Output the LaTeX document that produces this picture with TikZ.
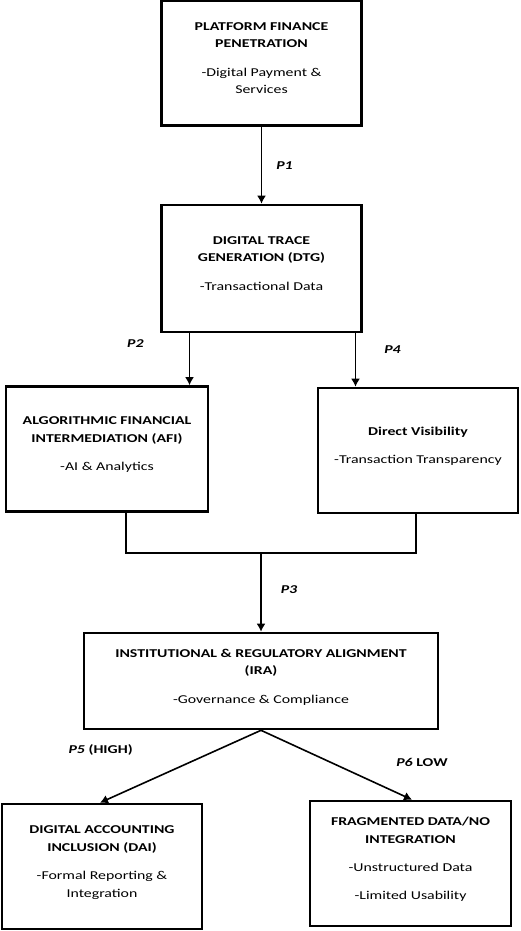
\documentclass[tikz,border=0pt]{standalone}
\usepackage{fontspec}
\setmainfont{Carlito}[FakeStretch=1.32]
\usepackage{tikz}
\usetikzlibrary{arrows.meta,positioning,calc}

\begin{document}
\begin{tikzpicture}[x=1pt,y=-1pt,>={Latex[length=8pt,width=9pt]},
 box/.style={draw,line width=2.6pt,minimum width=#1,minimum height=125pt,align=center,inner sep=2pt,text depth=10pt,font=\fontsize{12}{17.5}\selectfont},
 box/.default=200pt,
 arr/.style={->,line width=1.6pt},
 wire/.style={line width=1.6pt},
 lbl/.style={font=\fontsize{12}{14}\selectfont\bfseries\itshape,inner sep=0pt}]
 \useasboundingbox (0,0) rectangle (520,931);
 % boxes
 \node[box] (pfp) at (261.5,63) {\textbf{PLATFORM FINANCE}\\\textbf{PENETRATION}\\[11pt]-Digital Payment \&\\Services};
 \node[box,minimum height=127pt] (dtg) at (261.5,268.5) {\textbf{DIGITAL TRACE}\\\textbf{GENERATION (DTG)}\\[11pt]-Transactional Data};
 \node[box=202pt] (afi) at (107,449) {\textbf{ALGORITHMIC FINANCIAL}\\\textbf{INTERMEDIATION (AFI)}\\[11pt]-AI \& Analytics};
 \node[box] (dv) at (418,450.5) {\textbf{Direct Visibility}\\[11pt]-Transaction Transparency};
 \node[box=354pt,minimum height=96pt] (ira) at (261,681) {\textbf{INSTITUTIONAL \& REGULATORY ALIGNMENT}\\\textbf{(IRA)}\\[11pt]-Governance \& Compliance};
 \node[box] (dai) at (102,866.5) {\textbf{DIGITAL ACCOUNTING}\\\textbf{INCLUSION (DAI)}\\[11pt]-Formal Reporting \&\\Integration};
 \node[box=201pt] (fd) at (410.5,863.5) {\textbf{FRAGMENTED DATA/NO}\\\textbf{INTEGRATION}\\[11pt]-Unstructured Data\\[10pt]-Limited Usability};
 % links
 \draw[arr] (pfp) -- node[lbl,right=14pt] {P1} (dtg);
 \draw[arr] ([xshift=-72pt]dtg.south) -- node[lbl,pos=0.2,left=45pt] {P2} ([xshift=-72pt]dtg.south |- afi.north);
 \draw[arr] ([xshift=94pt]dtg.south) -- node[lbl,pos=0.31,right=28pt] {P4} ([xshift=94pt]dtg.south |- dv.north);
 \coordinate (join) at (261,553);
 \draw[wire] ([xshift=19pt]afi.south) |- (join) -| ([xshift=-2pt]dv.south);
 \draw[arr] (join) -- node[lbl,pos=0.46,right=19pt] {P3} (ira);
 \draw[arr] (ira.south) -- node[lbl,pos=0.27,left=84pt] {P5 \upshape(HIGH)} ([xshift=-2pt]dai.north);
 \draw[arr] (ira.south) -- node[lbl,pos=0.46,right=65pt] {P6 \upshape LOW} ([xshift=1.5pt]fd.north);
\end{tikzpicture}
\end{document}
